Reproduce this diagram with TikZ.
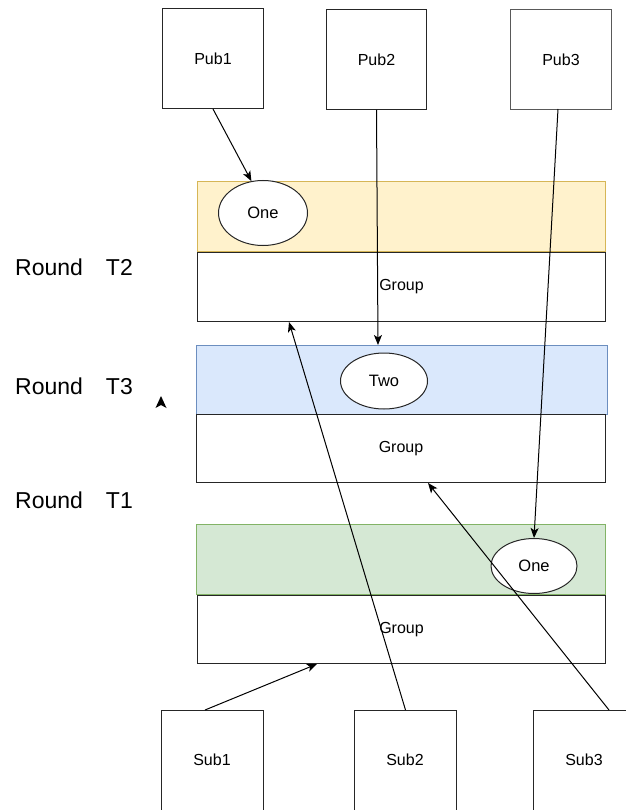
\documentclass[tikz,border=0pt]{standalone}
\usepackage{fontspec}
\setmainfont{Liberation Sans}
\usetikzlibrary{arrows.meta,shapes.geometric}
\definecolor{yelfill}{HTML}{FFF2CC}\definecolor{yelline}{HTML}{D6B656}
\definecolor{bluefill}{HTML}{DAE8FC}\definecolor{blueline}{HTML}{6C8EBF}
\definecolor{grnfill}{HTML}{D5E8D4}\definecolor{grnline}{HTML}{82B366}
\tikzset{
  box/.style={draw=black!85,line width=1pt,fill=white,rectangle,inner sep=0pt,anchor=north west,font=\fontsize{16}{18}\selectfont},
  band/.style={line width=1pt,rectangle,inner sep=0pt,anchor=north west},
  token/.style={draw=black!85,line width=1pt,fill=white,ellipse,inner sep=0pt,font=\fontsize{16.5}{18}\selectfont},
  roundlbl/.style={anchor=west,inner sep=0pt,font=\fontsize{23}{26}\selectfont},
  sublbl/.style={font=\fontsize{16}{18}\selectfont},
  link/.style={line width=1pt,-{Stealth[length=10pt,width=8pt,inset=2.5pt]}}
}
\begin{document}
\begin{tikzpicture}[x=1pt,y=-1pt]
\useasboundingbox (0,0) rectangle (625,810);
% publishers
\node[box,minimum width=101pt,minimum height=100pt] (pub1) at (162,8) {Pub1};
\node[box,minimum width=100pt,minimum height=100pt] (pub2) at (326,9) {Pub2};
\node[box,minimum width=101pt,minimum height=100pt,draw=black!65] (pub3) at (510,9) {Pub3};
% round T2
\node[band,draw=yelline,fill=yelfill,minimum width=408pt,minimum height=70pt] (band2) at (197,181) {};
\node[box,minimum width=408pt,minimum height=69pt] (grp2) at (197,252) {Group};
\node[token,minimum width=89pt,minimum height=65pt] (one2) at (263,213) {One};
% round T3
\node[band,draw=blueline,fill=bluefill,minimum width=411pt,minimum height=69pt] (band3) at (196,345) {};
\node[box,minimum width=409pt,minimum height=68pt] (grp3) at (196,414) {Group};
\node[token,minimum width=87pt,minimum height=56pt] (two3) at (384,381) {Two};
% round T1
\node[band,draw=grnline,fill=grnfill,minimum width=409pt,minimum height=70pt] (band1) at (196,524) {};
\node[box,minimum width=408pt,minimum height=68pt] (grp1) at (197,595) {Group};
\node[token,minimum width=86pt,minimum height=55pt] (one1) at (534,566) {One};
% subscribers
\node[box,minimum width=102pt,minimum height=104pt] (sub1) at (161,710) {};
\node[box,minimum width=102pt,minimum height=104pt] (sub2) at (354,710) {};
\node[box,minimum width=102pt,minimum height=104pt] (sub3) at (533,710) {};
\node[sublbl] (s1) at (212,760) {Sub1};
\node[sublbl] (s2) at (405,760) {Sub2};
\node[sublbl] (s3) at (584,760) {Sub3};
% round labels
\node[roundlbl] (lt2) at (15,267) {Round\hspace{1em}T2};
\node[roundlbl] (lt3) at (15,386) {Round\hspace{1em}T3};
\node[roundlbl] (lt1) at (15,500) {Round\hspace{1em}T1};
% arrow end points
\coordinate (e2) at (378,345);
\coordinate (p3s) at (558,109);
\coordinate (s1s) at (205,710);
\coordinate (e4) at (317,664);
\coordinate (e5) at (289,322);
\coordinate (s3s) at (609,710);
\coordinate (e6) at (428,483);
% connectors
\draw[link] (pub1.south) -- (one2.110);
\draw[link] (pub2.south) -- (e2);
\draw[link] (p3s) -- (one1.north);
\draw[link] (s1s) -- (e4);
\draw[link] (sub2.north) -- (e5);
\draw[link] (s3s) -- (e6);
% loose arrow tip
\coordinate (tip) at (161,396);
\fill (tip) -- ++(5.5,12) -- ++(-5.5,-3) -- ++(-5.5,3) -- cycle;
\end{tikzpicture}
\end{document}
